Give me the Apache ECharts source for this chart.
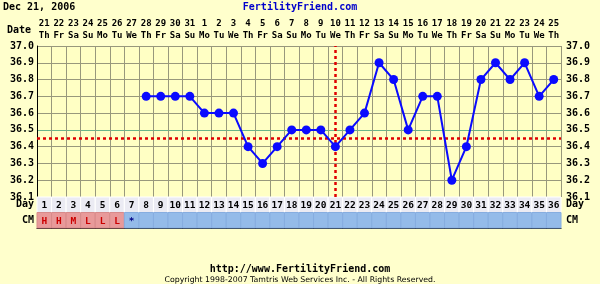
<!DOCTYPE html>
<html><head><meta charset="utf-8">
<script src="https://cdn.jsdelivr.net/npm/echarts@6/dist/echarts.min.js"></script>
<style>html,body{margin:0;padding:0;background:#ffffcc;}#c{width:600px;height:284px;}</style>
</head><body><div id="c"></div>
<script>
const days = Array.from({length:36},(_,i)=>String(i+1));
const dates = ['21','22','23','24','25','26','27','28','29','30','31','1','2','3','4','5','6','7','8','9','10','11','12','13','14','15','16','17','18','19','20','21','22','23','24','25'];
const weekdays = ['Th','Fr','Sa','Su','Mo','Tu','We','Th','Fr','Sa','Su','Mo','Tu','We','Th','Fr','Sa','Su','Mo','Tu','We','Th','Fr','Sa','Su','Mo','Tu','We','Th','Fr','Sa','Su','Mo','Tu','We','Th'];
const temps = [null,null,null,null,null,null,null,36.7,36.7,36.7,36.7,36.6,36.6,36.6,36.4,36.3,36.4,36.5,36.5,36.5,36.4,36.5,36.6,36.9,36.8,36.5,36.7,36.7,36.2,36.4,36.8,36.9,36.8,36.9,36.7,36.8];
const cm = ['H','H','M','L','L','L','*'];
const coverline = 36.45;
const ovulationDay = '21';
const yTicks = {min:36.1, max:37.0, step:0.1};

const mono = 'DejaVu Sans Mono';
const cells = [];
days.forEach((d,i)=>{
  cells.push([i,0,d,'day']);
  cells.push([i,1,cm[i]||'', i<6?'cmr':'cmb']);
});
const fills = {day:'#ebebf3', cmr:'#e89a9a', cmb:'#94bbe9'};
const strokes = {day:'#ffffff', cmr:'#d88a8a', cmb:'#86ade0'};
const tcol = {day:'#000000', cmr:'#cc0000', cmb:'#000088'};

const chart = echarts.init(document.getElementById('c'));
const yLabel = {fontFamily:mono, fontWeight:'bold', fontSize:10, color:'#000000', formatter:v=>v.toFixed(1)};
const hColors = ['#98987c','#98987c','#98987c','#98987c','#6ab48a','#98987c','#98987c','#98987c','#98987c','#98987c'];
chart.setOption({
  animation:false,
  backgroundColor:'#ffffcc',
  graphic:[
    {type:'text', left:3, top:2, style:{text:'Dec 21, 2006', font:'bold 10px "DejaVu Sans Mono"', fill:'#000000'}},
    {type:'text', left:'center', top:2, style:{text:'FertilityFriend.com', font:'bold 10px "DejaVu Sans Mono"', fill:'#0000cc'}},
    {type:'text', left:7, top:25, style:{text:'Date', font:'bold 10px "DejaVu Sans Mono"', fill:'#000000'}},
    {type:'text', left:'center', top:264, style:{text:'http://www.FertilityFriend.com', font:'bold 10px "DejaVu Sans Mono"', fill:'#000000'}},
    {type:'text', left:'center', top:276, style:{text:'Copyright 1998-2007 Tamtris Web Services Inc. - All Rights Reserved.', font:'7.8px "DejaVu Sans"', fill:'#000000'}}
  ],
  grid:[
    {left:37, right:39, top:46, height:151, backgroundColor:'#ffffc4', show:true, borderWidth:0},
    {left:37, right:39, top:197, height:31}
  ],
  xAxis:[
    {gridIndex:0, type:'category', data:days, boundaryGap:true,
     axisLine:{show:false}, axisTick:{show:false}, axisLabel:{show:false},
     splitLine:{show:true, interval:0, lineStyle:{color:'#98987c', width:1}}},
    {gridIndex:0, type:'category', data:dates, position:'top', boundaryGap:true,
     axisLine:{show:false}, axisTick:{show:false},
     axisLabel:{interval:0, margin:4, formatter:(v,i)=>'{a|'+v+'}\n{a|'+weekdays[i]+'}',
       rich:{a:{fontFamily:mono, fontWeight:'bold', fontSize:9, lineHeight:12, color:'#000000'}}}},
    {gridIndex:1, type:'category', data:days, boundaryGap:true,
     axisLine:{show:true, lineStyle:{color:'#000000'}}, axisTick:{show:false}, axisLabel:{show:false}}
  ],
  yAxis:[
    {gridIndex:0, type:'value', min:yTicks.min, max:yTicks.max, interval:yTicks.step,
     axisLine:{show:true, lineStyle:{color:'#000000'}}, axisTick:{show:false},
     axisLabel:Object.assign({margin:3}, yLabel),
     splitLine:{show:true, lineStyle:{color:hColors, width:1}}},
    {gridIndex:0, type:'value', position:'right', min:yTicks.min, max:yTicks.max, interval:yTicks.step,
     axisLine:{show:false}, axisTick:{show:false},
     axisLabel:Object.assign({margin:5}, yLabel), splitLine:{show:false}},
    {gridIndex:1, type:'category', data:['Day','CM'], inverse:true,
     axisLine:{show:true, lineStyle:{color:'#000000'}}, axisTick:{show:false},
     axisLabel:{margin:3, fontFamily:mono, fontWeight:'bold', fontSize:10, color:'#000000'}},
    {gridIndex:1, type:'category', data:['Day','CM'], inverse:true, position:'right',
     axisLine:{show:false}, axisTick:{show:false},
     axisLabel:{margin:5, fontFamily:mono, fontWeight:'bold', fontSize:10, color:'#000000'}}
  ],
  series:[
    {type:'line', xAxisIndex:0, yAxisIndex:0, data:temps, symbol:'circle', symbolSize:9,
     itemStyle:{color:'#0a0aff'}, lineStyle:{color:'#0a0aff', width:2}, z:5,
     markLine:{silent:true, symbol:'none', label:{show:false},
       lineStyle:{color:'#e00000', type:[3,3], width:2.5},
       data:[{yAxis:coverline},{xAxis:ovulationDay}]}},
    {type:'custom', xAxisIndex:2, yAxisIndex:2, data:cells,
     renderItem:(params, api)=>{
       const c = api.coord([api.value(0), api.value(1)]);
       const s = api.size([1,1]);
       const k = cells[params.dataIndex][3];
       return {type:'group', children:[
         {type:'rect', shape:{x:c[0]-s[0]/2, y:c[1]-s[1]/2, width:s[0], height:s[1]},
          style:{fill:fills[k], stroke:strokes[k], lineWidth:1}},
         {type:'text', style:{text:cells[params.dataIndex][2], x:c[0], y:c[1]+1, align:'center', verticalAlign:'middle',
          font:'bold 9.5px "DejaVu Sans Mono"', fill:tcol[k]}}
       ]};
     }}
  ]
});
</script></body></html>
